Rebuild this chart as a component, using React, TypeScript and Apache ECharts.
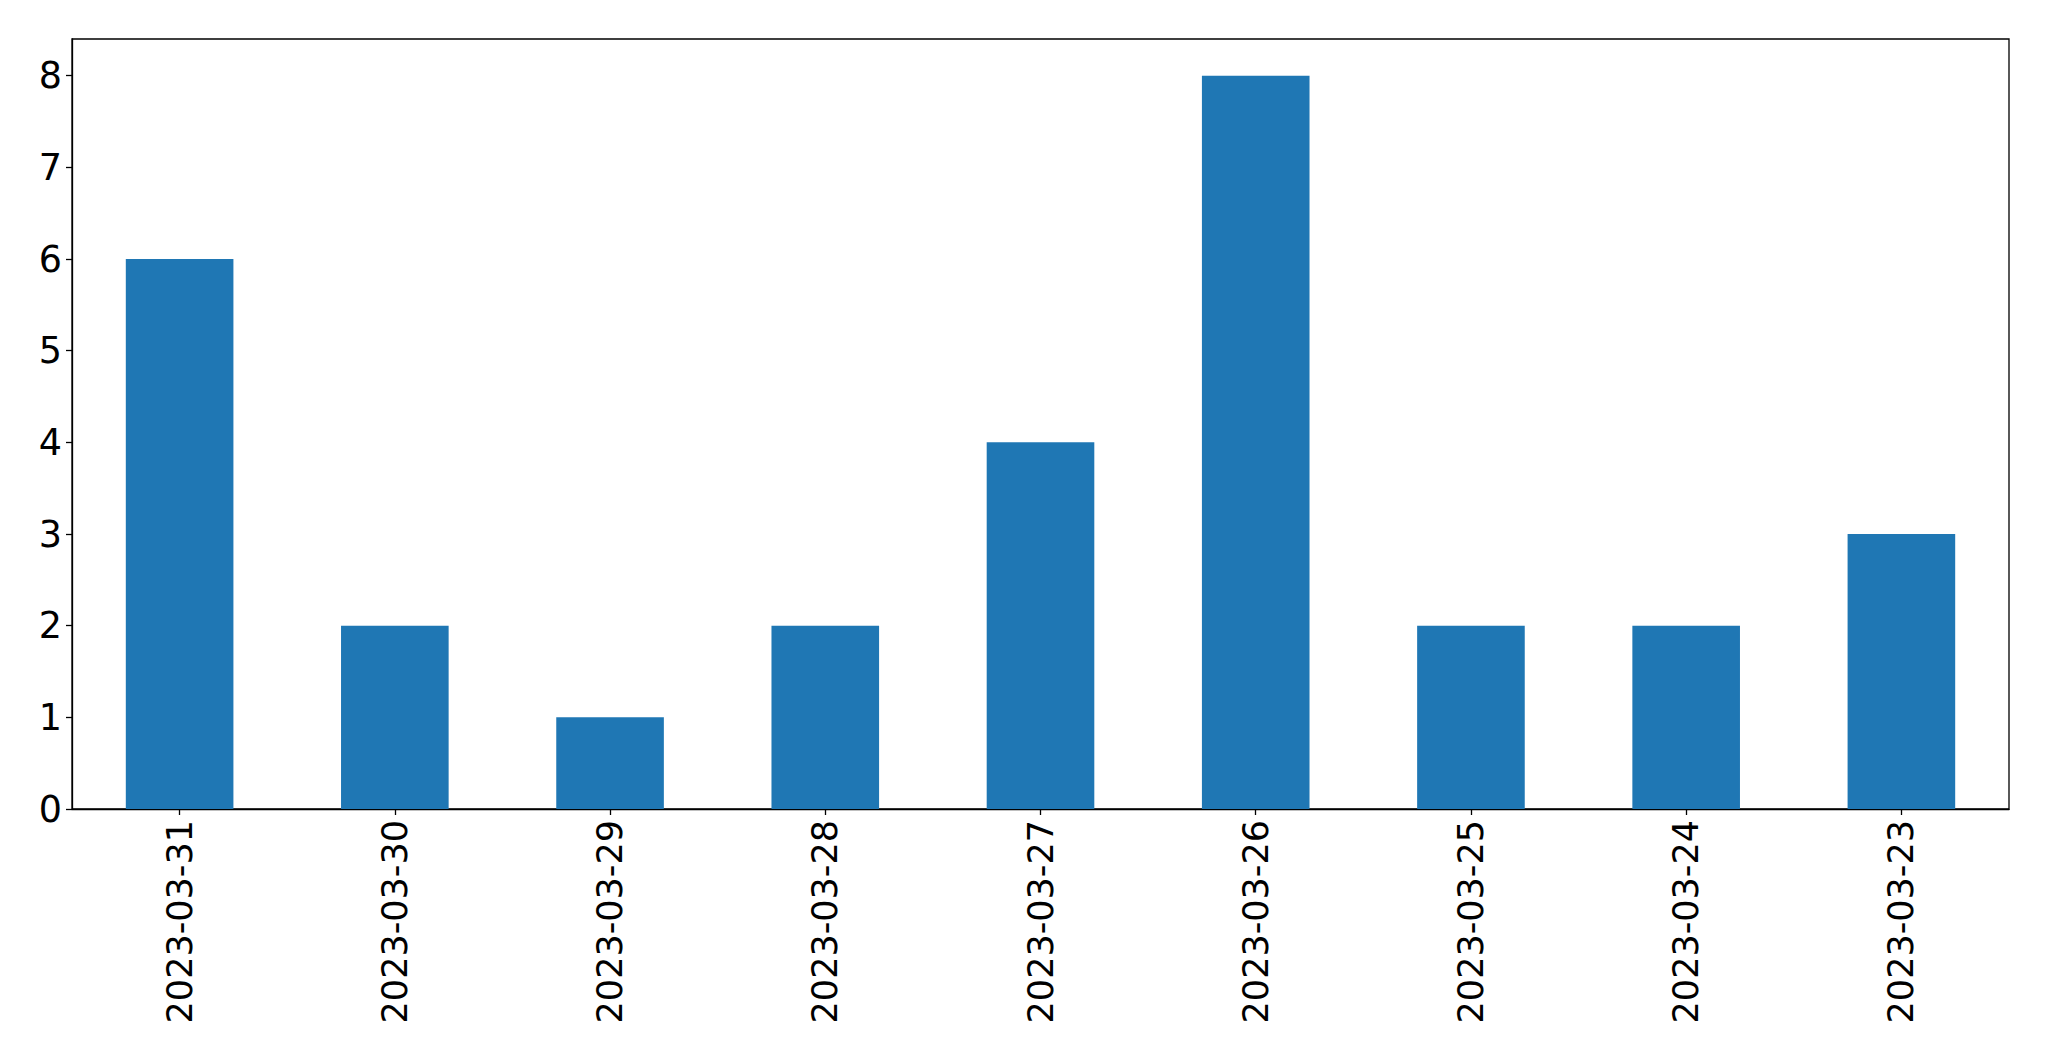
import React, { useEffect, useRef } from "react";
import * as echarts from "echarts";

const categories = [
  "2023-03-31",
  "2023-03-30",
  "2023-03-29",
  "2023-03-28",
  "2023-03-27",
  "2023-03-26",
  "2023-03-25",
  "2023-03-24",
  "2023-03-23",
];
const values = [6, 2, 1, 2, 4, 8, 2, 2, 3];
const yTicks = [0, 1, 2, 3, 4, 5, 6, 7, 8];
const yMax = 8.4;

export default function App() {
  const ref = useRef<HTMLDivElement>(null);
  useEffect(() => {
    document.body.style.margin = "0";
    if (!ref.current) return;
    const chart = echarts.init(ref.current, null, { renderer: "svg" });
    const font = "DejaVu Sans";
    chart.setOption({
      animation: false,
      backgroundColor: "#ffffff",
      grid: {
        left: 72,
        top: 39,
        right: 40,
        bottom: 252,
        show: true,
        borderColor: "#000000",
        borderWidth: 1.3,
        containLabel: false,
      },
      xAxis: {
        type: "category",
        data: categories,
        boundaryGap: true,
        axisLine: { show: true, lineStyle: { color: "#000", width: 1.3 } },
        axisTick: {
          show: true,
          alignWithLabel: true,
          length: 6,
          lineStyle: { color: "#000", width: 1.3 },
        },
        axisLabel: {
          rotate: 90,
          interval: 0,
          margin: 11,
          color: "#000",
          fontFamily: font,
          fontSize: 35,
        },
        splitLine: { show: false },
      },
      yAxis: {
        type: "value",
        min: 0,
        max: yMax,
        interval: 1,
        axisLine: { show: true, lineStyle: { color: "#000", width: 1.3 } },
        axisTick: {
          show: true,
          length: 6,
          customValues: yTicks,
          lineStyle: { color: "#000", width: 1.3 },
        },
        axisLabel: {
          margin: 10,
          color: "#000",
          fontFamily: font,
          fontSize: 36.5,
          customValues: yTicks,
        },
        splitLine: { show: false },
      },
      series: [
        {
          type: "bar",
          data: values,
          barWidth: "50%",
          itemStyle: { color: "#1f77b4" },
        },
      ],
    });
    return () => chart.dispose();
  }, []);
  return <div ref={ref} style={{ width: 2049, height: 1061 }} />;
}
